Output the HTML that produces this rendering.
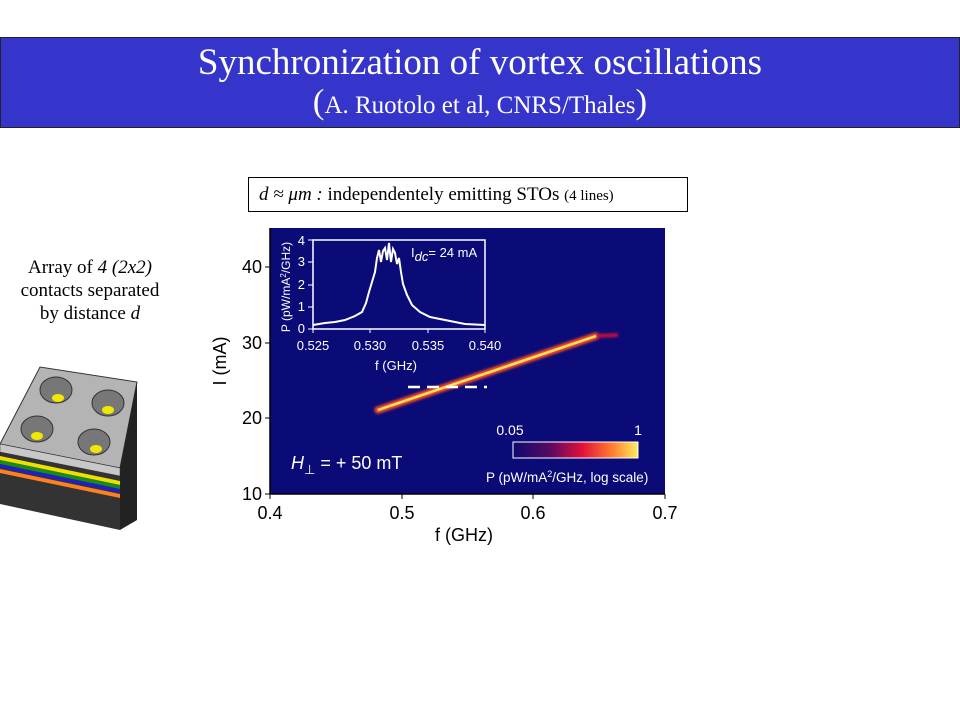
<!DOCTYPE html>
<html><head><style>
body{margin:0;width:960px;height:720px;background:#fff;position:relative;overflow:hidden;font-family:"Liberation Serif",serif}
.bar{position:absolute;left:0;top:37px;width:958px;height:89px;background:#3535cc;border:1px solid #222;color:#fff;text-align:center}
</style></head><body>
<div class="bar">
<div style="font-size:37px;margin-top:4px;line-height:42px">Synchronization of vortex oscillations</div>
<div style="font-size:25px;line-height:36px"><span style="font-size:35px">(</span>A. Ruotolo et al, CNRS/Thales<span style="font-size:35px">)</span></div>
</div>
<div style="position:absolute;left:248px;top:177px;width:440px;height:35px;border:1px solid #000;font-size:19px;line-height:34px;box-sizing:border-box;padding-left:10px"><i>d ≈ μm :</i> independentely emitting STOs <span style="font-size:15px">(4 lines)</span></div>
<div style="position:absolute;left:0;top:256px;width:180px;text-align:center;font-size:19px;line-height:23px">Array of <i>4 (2x2)</i><br>contacts separated<br>by distance <i>d</i></div>
<svg style="position:absolute;left:0;top:0" width="960" height="720">
<defs>
<linearGradient id="cb"><stop offset="0" stop-color="#0a0a70"/><stop offset="0.3" stop-color="#5a0a60"/><stop offset="0.55" stop-color="#e0103a"/><stop offset="0.8" stop-color="#ff8030"/><stop offset="1" stop-color="#ffee60"/></linearGradient>
<filter id="bl"><feGaussianBlur stdDeviation="1.3"/></filter>
</defs>
<polygon points="0,444 40,367 137,382 120,468" fill="#b4b4b4" stroke="#333"/>
<polygon points="0,444 120,468 120,530 0,504" fill="#333"/>
<polygon points="120,468 137,382 137,520 120,530" fill="#222"/>
<polygon points="0,444 120,468 120,476 0,452" fill="#c8c8c8" stroke="#333" stroke-width=".5"/>
<polygon points="0,456 120,481 120,485 0,460" fill="#f0e000"/>
<polygon points="0,460 120,485 120,489 0,464" fill="#1a8a1a"/>
<polygon points="0,464 120,489 120,493 0,468" fill="#2020c0"/>
<polygon points="0,469 120,494 120,498 0,473" fill="#ff8020"/>
<g fill="#777" stroke="#333"><ellipse cx="56" cy="390" rx="16" ry="13"/><ellipse cx="108" cy="403" rx="16" ry="13"/><ellipse cx="37" cy="429" rx="16" ry="13"/><ellipse cx="94" cy="442" rx="16" ry="13"/></g>
<g fill="#f0e800"><ellipse cx="58" cy="398" rx="6" ry="4"/><ellipse cx="108" cy="410" rx="6" ry="4"/><ellipse cx="37" cy="436" rx="6" ry="4"/><ellipse cx="96" cy="449" rx="6" ry="4"/></g>
<rect x="270" y="228" width="395" height="266" fill="#0b0b78"/>
<g stroke="#000" stroke-width="1.5"><line x1="270" y1="494" x2="665" y2="494"/><line x1="270" y1="228" x2="270" y2="494"/></g>
<g stroke="#000"><line x1="270" y1="494" x2="270" y2="499"/><line x1="402" y1="494" x2="402" y2="499"/><line x1="533" y1="494" x2="533" y2="499"/><line x1="665" y1="494" x2="665" y2="499"/>
<line x1="265" y1="494" x2="270" y2="494"/><line x1="265" y1="418" x2="270" y2="418"/><line x1="265" y1="343" x2="270" y2="343"/><line x1="265" y1="267" x2="270" y2="267"/></g>
<g font-family="Liberation Sans,sans-serif" font-size="18" fill="#000">
<text x="270" y="519" text-anchor="middle">0.4</text><text x="402" y="519" text-anchor="middle">0.5</text><text x="533" y="519" text-anchor="middle">0.6</text><text x="665" y="519" text-anchor="middle">0.7</text>
<text x="262" y="500" text-anchor="end">10</text><text x="262" y="424" text-anchor="end">20</text><text x="262" y="349" text-anchor="end">30</text><text x="262" y="273" text-anchor="end">40</text>
<text x="464" y="541" text-anchor="middle">f (GHz)</text>
<text transform="translate(226,361) rotate(-90)" text-anchor="middle">I (mA)</text>
</g>
<g filter="url(#bl)"><line x1="378" y1="410" x2="596" y2="336" stroke="#ff5020" stroke-width="7" stroke-linecap="round"/><line x1="596" y1="336" x2="618" y2="335" stroke="#c01040" stroke-width="4"/></g>
<line x1="378" y1="410" x2="596" y2="336" stroke="#ffe060" stroke-width="2.5"/>
<line x1="408" y1="387" x2="487" y2="387" stroke="#fff" stroke-width="2.5" stroke-dasharray="12,7"/>
<rect x="313" y="240" width="172" height="89" fill="none" stroke="#fff" stroke-width="1.5"/>
<g stroke="#fff"><line x1="308" y1="329" x2="313" y2="329"/><line x1="308" y1="307" x2="313" y2="307"/><line x1="308" y1="285" x2="313" y2="285"/><line x1="308" y1="262" x2="313" y2="262"/><line x1="308" y1="240" x2="313" y2="240"/>
<line x1="313" y1="329" x2="313" y2="333"/><line x1="370" y1="329" x2="370" y2="333"/><line x1="428" y1="329" x2="428" y2="333"/><line x1="485" y1="329" x2="485" y2="333"/></g>
<g font-family="Liberation Sans,sans-serif" font-size="13" fill="#fff">
<text x="305" y="333" text-anchor="end">0</text><text x="305" y="311" text-anchor="end">1</text><text x="305" y="289" text-anchor="end">2</text><text x="305" y="266" text-anchor="end">3</text><text x="305" y="245" text-anchor="end">4</text>
<text x="313" y="350" text-anchor="middle">0.525</text><text x="370" y="350" text-anchor="middle">0.530</text><text x="428" y="350" text-anchor="middle">0.535</text><text x="485" y="350" text-anchor="middle">0.540</text>
<text x="396" y="370" text-anchor="middle">f (GHz)</text>
<text transform="translate(290,287) rotate(-90)" text-anchor="middle" font-size="12">P (pW/mA<tspan dy="-4" font-size="8">2</tspan><tspan dy="4">/GHz)</tspan></text>
<text x="411" y="257">I<tspan dy="4" font-style="italic">dc</tspan><tspan dy="-4">= 24 mA</tspan></text>
</g>
<polyline fill="none" stroke="#fff" stroke-width="2" points="313,325 325,323 335,322 345,320 355,316 362,312 366,303 369,292 372,282 375,272 377,258 379,250 381,262 383,251 385,248 387,260 389,243 391,262 393,249 395,253 397,264 399,258 401,272 403,284 407,295 412,305 420,312 430,317 445,320 465,324 485,325"/>
<rect x="513" y="442" width="125" height="16" fill="url(#cb)" stroke="#fff"/>
<g font-family="Liberation Sans,sans-serif" fill="#fff">
<text x="510" y="435" font-size="14" text-anchor="middle">0.05</text><text x="638" y="435" font-size="14" text-anchor="middle">1</text>
<text x="486" y="482" font-size="13.5">P (pW/mA<tspan dy="-5" font-size="9">2</tspan><tspan dy="5">/GHz, log scale)</tspan></text>
<text x="291" y="469" font-size="18"><tspan font-style="italic">H</tspan><tspan dy="5" font-size="13">⊥</tspan><tspan dy="-5"> = + 50 mT</tspan></text>
</g>
</svg>
</body></html>
